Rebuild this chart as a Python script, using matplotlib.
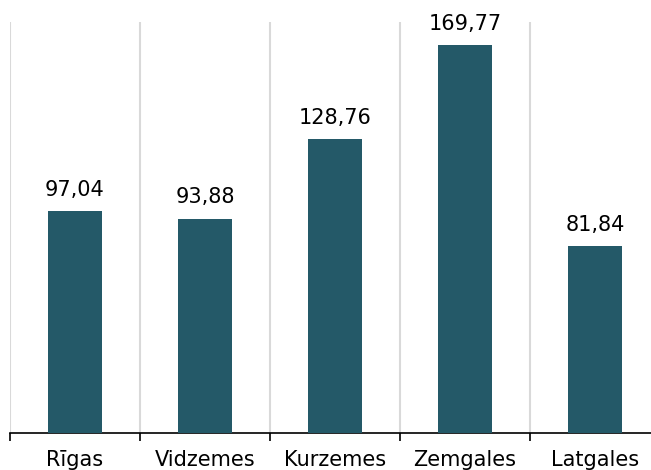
import matplotlib
matplotlib.use("Agg")
import matplotlib.pyplot as plt
import numpy as np

categories = ["Rīgas", "Vidzemes", "Kurzemes", "Zemgales", "Latgales"]
values = [97.04, 93.88, 128.76, 169.77, 81.84]
labels = ["97,04", "93,88", "128,76", "169,77", "81,84"]

W, H = 651, 470
fig = plt.figure(figsize=(W/100, H/100), dpi=100)
ax = fig.add_axes([10/W, (H-433)/H, 650/W, 411/H])

x = np.arange(len(categories))
bars = ax.bar(x, values, width=0.41, color="#245968", zorder=3)
for xi, v, lab in zip(x, values, labels):
    ax.annotate(lab, (xi, v), xytext=(0, 11), textcoords="offset points",
                ha="center", va="baseline", fontsize=15, color="black",
                family="DejaVu Sans")

ax.set_xlim(-0.5, len(categories) - 0.5)
ax.set_ylim(0, 180)
ax.set_yticks([])
ax.set_xticks(x)
ax.set_xticklabels(categories, fontsize=15, family="DejaVu Sans")
ax.tick_params(axis="x", which="major", length=0, pad=12)
bounds = np.arange(len(categories) + 1) - 0.5
ax.set_xticks(bounds, minor=True)
ax.tick_params(axis="x", which="minor", length=6, width=1.2, color="black", direction="out")
ax.grid(axis="x", which="minor", color="#d9d9d9", linewidth=1.5, zorder=0)
for s in ["top", "right", "left"]:
    ax.spines[s].set_visible(False)
ax.spines["bottom"].set_color("black")
ax.spines["bottom"].set_linewidth(1.2)

fig.savefig("out.png", dpi=100)
